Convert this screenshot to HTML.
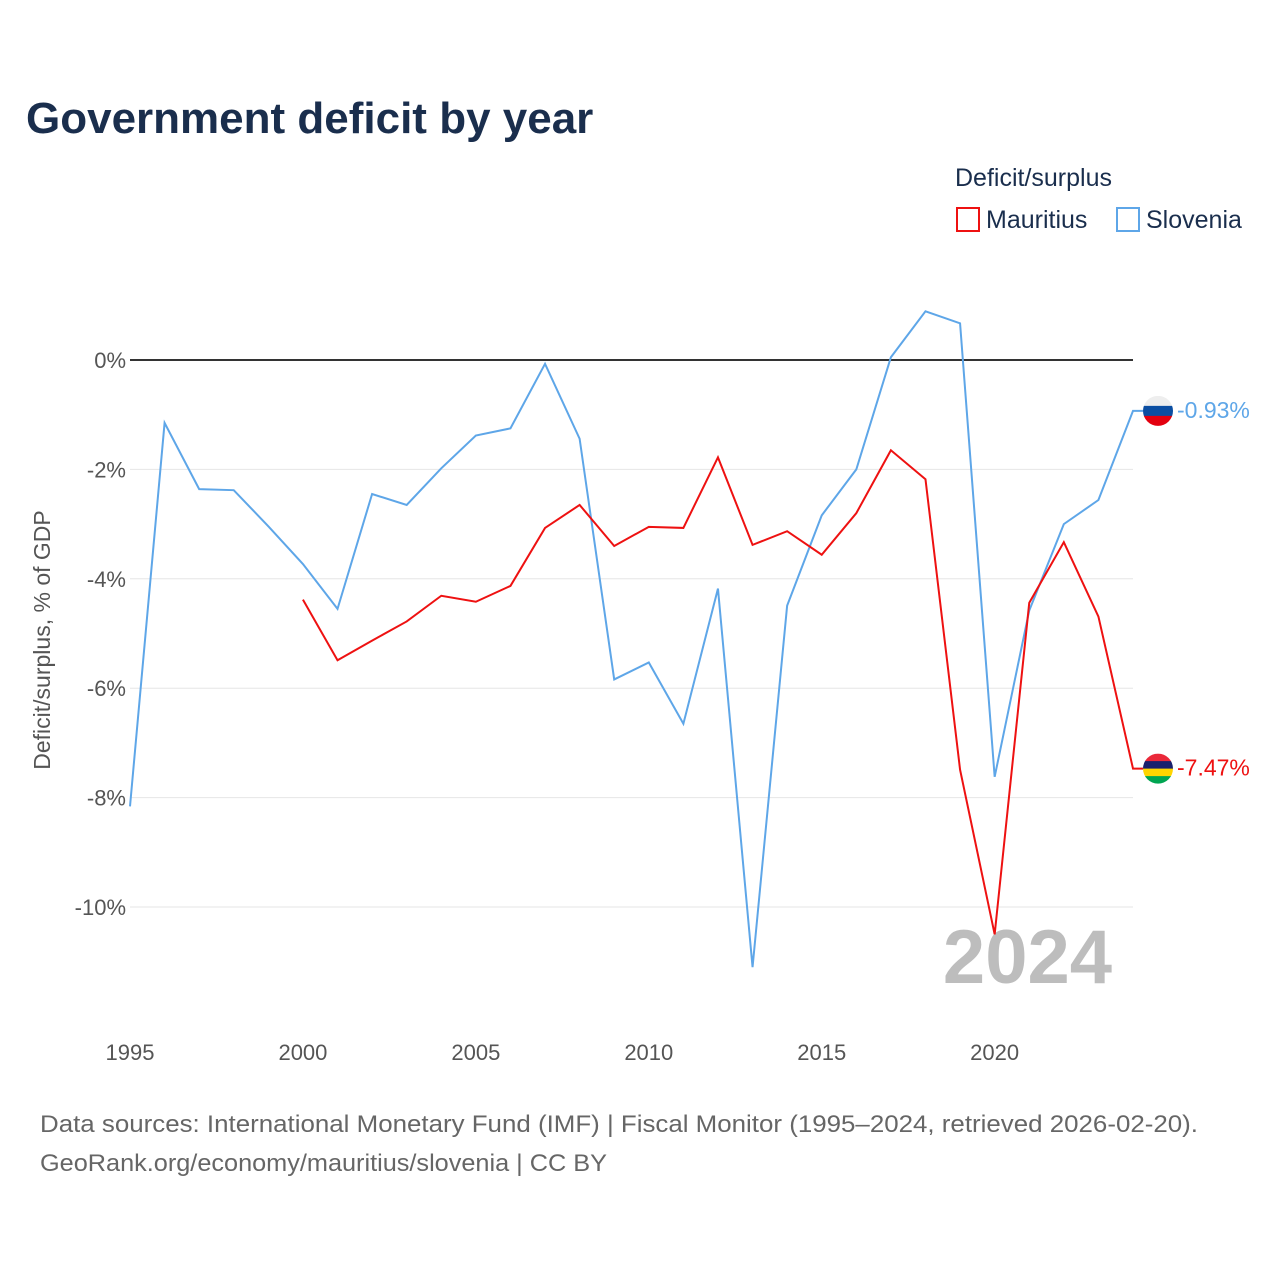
<!DOCTYPE html>
<html><head><meta charset="utf-8"><style>
body{margin:0;background:#fff;font-family:"Liberation Sans",sans-serif;}
</style></head><body>
<svg width="1280" height="1280" xmlns="http://www.w3.org/2000/svg">
<text x="26" y="133" font-size="44" font-weight="bold" fill="#1a2e4d">Government deficit by year</text>
<text x="955" y="186" font-size="25" fill="#1a2e4d">Deficit/surplus</text>
<g><rect x="957" y="208" width="22" height="23" fill="none" stroke="#ee1111" stroke-width="2"/><text x="986" y="228" font-size="25" fill="#1a2e4d">Mauritius</text></g>
<g><rect x="1117" y="208" width="22" height="23" fill="none" stroke="#5ea6e8" stroke-width="2"/><text x="1146" y="228" font-size="25" fill="#1a2e4d">Slovenia</text></g>
<g id="grid"></g><g id="ylabels"></g><g id="xlabels"></g>
<text x="1112" y="983" font-size="76" font-weight="bold" fill="#bdbdbd" text-anchor="end">2024</text>
<text transform="translate(50,640) rotate(-90)" font-size="23" fill="#555" text-anchor="middle">Deficit/surplus, % of GDP</text>
<g id="series"></g>
<text x="40" y="1132" font-size="24" fill="#666" textLength="1158" lengthAdjust="spacingAndGlyphs">Data sources: International Monetary Fund (IMF) | Fiscal Monitor (1995–2024, retrieved 2026-02-20).</text>
<text x="40" y="1171" font-size="24" fill="#666" textLength="567" lengthAdjust="spacingAndGlyphs">GeoRank.org/economy/mauritius/slovenia | CC BY</text>
</svg>
<script>
const years=[];for(let y=1995;y<=2024;y++)years.push(y);
const slovenia=[-8.16,-1.15,-2.36,-2.38,-3.04,-3.73,-4.55,-2.45,-2.65,-1.98,-1.38,-1.25,-0.07,-1.44,-5.84,-5.53,-6.65,-4.18,-11.1,-4.49,-2.84,-2.0,0.05,0.89,0.67,-7.62,-4.58,-3.0,-2.56,-0.93];
const mauritius=[null,null,null,null,null,-4.38,-5.49,-5.13,-4.78,-4.31,-4.42,-4.13,-3.07,-2.65,-3.4,-3.05,-3.07,-1.78,-3.38,-3.13,-3.56,-2.8,-1.65,-2.18,-7.49,-10.5,-4.44,-3.33,-4.69,-7.47];
const yTicks=[0,-2,-4,-6,-8,-10];
const xTicks=[1995,2000,2005,2010,2015,2020];
const NS='http://www.w3.org/2000/svg';
const X=y=>130+(y-1995)*(1133-130)/29;
const Y=v=>360-v*54.7;
function mk(t,a,p){const e=document.createElementNS(NS,t);for(const k in a)e.setAttribute(k,a[k]);p.appendChild(e);return e;}
const g=document.getElementById('grid'),yl=document.getElementById('ylabels'),xl=document.getElementById('xlabels'),s=document.getElementById('series');
yTicks.forEach(v=>{
 const l=mk('line',{x1:130,x2:1133,y1:Y(v),y2:Y(v),stroke:v===0?'#333':'#e6e6e6','stroke-width':v===0?2:1},g);
 
 
 const t=mk('text',{x:126,y:Y(v)+8,'font-size':22,fill:'#555','text-anchor':'end'},yl);t.textContent=v+'%';
 
 
});
xTicks.forEach(v=>{
 const t=mk('text',{x:X(v),y:1060,'font-size':22,fill:'#555','text-anchor':'middle'},xl);t.textContent=v;
 
 
});
function line(data,color,name){
 let d='';data.forEach((v,i)=>{if(v===null)return;d+=(d?'L':'M')+X(years[i])+','+Y(v);});
 const last=data[data.length-1];d+='L1143,'+Y(last);
 const p=mk('path',{d:d,fill:'none',stroke:color,'stroke-width':2},s);
 
 
 return last;
}
const ls=line(slovenia,'#5ea6e8','slovenia');
const lm=line(mauritius,'#ee1111','mauritius');
function flag(v,cols,name){
 const cy=Y(v),g2=mk('g',{},s);
 
 
 const id='c'+name;const cp=mk('clipPath',{id:id},g2);mk('circle',{cx:1158,cy:cy,r:15},cp);
 const h=30/cols.length;cols.forEach((c,i)=>mk('rect',{x:1143,y:cy-15+i*h,width:30,height:h+0.5,fill:c,'clip-path':'url(#'+id+')'},g2));
}
flag(ls,['#eeeeee','#0b4ea2','#e3000f'],'slovenia');
flag(lm,['#ea2839','#1a206d','#ffd500','#00a551'],'mauritius');
const ts=mk('text',{x:1177,y:Y(ls)+7,'font-size':23,fill:'#5ea6e8'},s);ts.textContent=ls.toFixed(2)+'%';


const tm=mk('text',{x:1177,y:Y(lm)+7,'font-size':23,fill:'#ee1111'},s);tm.textContent=lm.toFixed(2)+'%';


</script>
</body></html>
